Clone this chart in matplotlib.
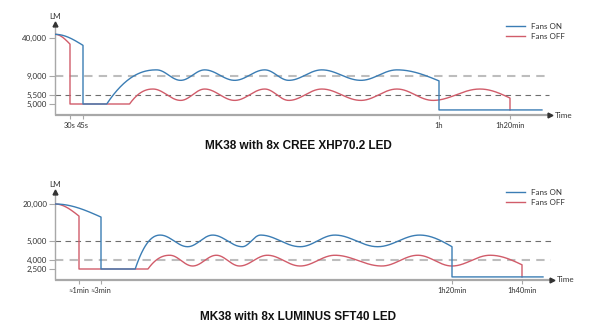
import numpy as np
import matplotlib
matplotlib.use("Agg")
import matplotlib.pyplot as plt

# ---------------- data ----------------
# Top chart: MK38 with 8x CREE XHP70.2 LED (time in minutes, output in lumens)
top_title = "MK38 with 8x CREE XHP70.2 LED"
top_yticks = [5000, 5500, 9000, 40000]
top_ytick_labels = ["5,000", "5,500", "9,000", "40,000"]
top_xticks = [0.5, 0.75, 60, 80]
top_xtick_labels = ["30s", "45s", "1h", "1h20min"]
top_dashed = [9000, 5500]

top_on_t = [0, 0.75, 0.75, 4.7, 13, 17, 21, 26, 31, 35, 40.5, 47, 53, 60, 60, 89]
top_on_lm = [43000, 34000, 5000, 5000, 14000, 8200, 14000, 8200, 14000, 8200, 14000, 8200, 14000, 8100, 2300, 2300]
top_on_kind = ["in", "step", "lin", "out", "cos", "cos", "cos", "cos", "cos", "cos", "cos", "cos", "in", "step", "lin"]

top_off_t = [0, 0.5, 0.5, 8.5, 12.4, 17, 21, 26, 31, 35, 40.5, 47, 53, 59, 71.5, 80, 80]
top_off_lm = [43000, 35000, 5000, 5000, 6600, 5200, 6600, 5200, 6600, 5200, 6600, 5200, 6600, 5200, 6600, 5330, 2300]
top_off_kind = ["in", "step", "lin", "out", "cos", "cos", "cos", "cos", "cos", "cos", "cos", "cos", "cos", "cos", "in", "step"]

# Bottom chart: MK38 with 8x LUMINUS SFT40 LED
bot_title = "MK38 with 8x LUMINUS SFT40 LED"
bot_yticks = [2500, 4000, 5000, 20000]
bot_ytick_labels = ["2,500", "4,000", "5,000", "20,000"]
bot_xticks = [1, 3, 80, 100]
bot_xtick_labels = ["\u22481min", "\u22483min", "1h20min", "1h40min"]
bot_dashed = [5000, 4000]

bot_on_t = [0, 3, 3, 10.5, 16, 22, 27.5, 34, 38, 46.7, 54.3, 63.7, 72.9, 80, 80, 106]
bot_on_lm = [20000, 14700, 2500, 2500, 7400, 4700, 7400, 4700, 7400, 4700, 7400, 4700, 7400, 4700, 700, 700]
bot_on_kind = ["in", "step", "lin", "out", "cos", "cos", "cos", "cos", "cos", "cos", "cos", "cos", "in", "step", "lin"]

bot_off_t = [0, 1, 1, 13.3, 18.1, 23.1, 28.3, 33.4, 39.5, 46.7, 54.3, 64.6, 72.5, 80, 90.9, 100, 100]
bot_off_lm = [20000, 15100, 2500, 2500, 4250, 3000, 4250, 3000, 4250, 3000, 4250, 3000, 4250, 3000, 4250, 3200, 700]
bot_off_kind = ["in", "step", "lin", "out", "cos", "cos", "cos", "cos", "cos", "cos", "cos", "cos", "cos", "cos", "in", "step"]

series_labels = ["Fans ON", "Fans OFF"]
series_colors = ["#3b7db4", "#d15c6a"]


# ---------------- helpers ----------------
def piecewise_scale(vals, pos):
    vals = np.asarray(vals, float)
    pos = np.asarray(pos, float)
    s_hi = (pos[-1] - pos[-2]) / (vals[-1] - vals[-2])
    vals_e = np.concatenate([vals, [vals[-1] + 1e6]])
    pos_e = np.concatenate([pos, [pos[-1] + 1e6 * s_hi]])

    def fwd(x):
        return np.interp(np.asarray(x, float), vals_e, pos_e)

    def inv(y):
        return np.interp(np.asarray(y, float), pos_e, vals_e)
    return fwd, inv


def smooth(ts, vs, kinds, fx, ix, fy, iy, n=60):
    """Smooth schematic line through key points, eased in scaled space."""
    px = fx(np.asarray(ts, float))
    py = fy(np.asarray(vs, float))
    xs, ys = [px[0]], [py[0]]
    for i, k in enumerate(kinds):
        x0, x1, y0, y1 = px[i], px[i + 1], py[i], py[i + 1]
        if k in ("step", "lin"):
            xs.append(x1); ys.append(y1)
            continue
        s = np.linspace(0, 1, n)[1:]
        if k == "cos":
            e = (1 - np.cos(np.pi * s)) / 2
        elif k == "in":
            e = 1 - np.cos(np.pi / 2 * s)
        else:  # "out": nearly straight rise that rounds off at the top
            e = 1 - (1 - s) ** 2.2
        xs.extend(x0 + (x1 - x0) * s)
        ys.extend(y0 + (y1 - y0) * e)
    return ix(np.array(xs)), iy(np.array(ys))


W, H = 600, 336
fig = plt.figure(figsize=(W / 100, H / 100), dpi=100)
fig.patch.set_facecolor("white")
FONT = ["Lato", "DejaVu Sans"]
AX_GRAY = "#a8a8a8"
TXT = "#333333"
FS = 5.8
FS_X = 5.4


def panel(x0, x1, ybase, ytop, title, title_y,
          xanch_t, xanch_p, yanch_v, yanch_p,
          yticks, ylabels, xticks, xlabels, dashed, dash_styles,
          on, off, leg_y):
    ax = fig.add_axes([x0 / W, (H - ybase) / H, (x1 - x0) / W, (ybase - ytop) / H])
    fx, ix = piecewise_scale(xanch_t, xanch_p)
    fy, iy = piecewise_scale(yanch_v, yanch_p)
    ax.set_xscale("function", functions=(fx, ix))
    ax.set_yscale("function", functions=(fy, iy))
    ax.set_xlim(0, ix(x1 - x0))
    ax.set_ylim(0, iy(ybase - ytop))
    ax.set_facecolor("none")
    for s in ax.spines.values():
        s.set_visible(False)

    ax.plot([0, 0], [0, 1], transform=ax.transAxes, color=AX_GRAY, lw=1.0,
            clip_on=False, solid_capstyle="butt")
    ax.plot([0, 1], [0, 0], transform=ax.transAxes, color=AX_GRAY, lw=1.6,
            clip_on=False, solid_capstyle="butt")
    ax.plot([0], [1], marker="^", ms=3.5, color="#333333", transform=ax.transAxes, clip_on=False)
    ax.plot([1], [0], marker=">", ms=3.5, color="#333333", transform=ax.transAxes, clip_on=False)
    ax.text(0, 1.0 + 4 / (ybase - ytop), "LM", transform=ax.transAxes, ha="center",
            va="bottom", fontsize=FS, family=FONT, color=TXT)
    ax.text(1.0 + 5 / (x1 - x0), 0, "Time", transform=ax.transAxes, ha="left",
            va="center", fontsize=FS, family=FONT, color=TXT)

    for lvl, (c, lw) in zip(dashed, dash_styles):
        ax.plot([0, ix(x1 - x0 - 1)], [lvl, lvl], color=c, lw=lw,
                linestyle=(0, (4, 3)) if lw > 1 else (0, (5, 4)), zorder=1)

    ax.set_yticks(yticks)
    ax.set_yticklabels(ylabels)
    ax.set_xticks(xticks)
    ax.set_xticklabels(xlabels)
    ax.minorticks_off()
    ax.tick_params(axis="y", length=4, width=0.8, color=AX_GRAY, pad=1.5,
                   labelsize=FS, labelcolor=TXT)
    ax.tick_params(axis="x", length=3, width=0.8, color=AX_GRAY, pad=2,
                   labelsize=FS_X, labelcolor=TXT)
    for lab in ax.get_xticklabels() + ax.get_yticklabels():
        lab.set_family(FONT)

    lines = []
    for (t, v, k), c, lab, z in zip([on, off], series_colors, series_labels, [4, 3]):
        xs, ys = smooth(t, v, k, fx, ix, fy, iy)
        ln, = ax.plot(xs, ys, color=c, lw=1.0, label=lab, zorder=z,
                      solid_joinstyle="round")
        lines.append(ln)

    fig.legend(handles=lines, labels=series_labels, loc="upper left",
               bbox_to_anchor=(506 / W, (H - leg_y) / H), frameon=False,
               handlelength=2.4, handletextpad=0.7,
               labelspacing=0.35, borderpad=0, borderaxespad=0,
               prop={"family": FONT, "size": FS}, labelcolor=TXT)

    fig.text(298 / W, (H - title_y) / H, title, ha="center", va="center",
             fontsize=8.5, fontweight="bold", family="Liberation Sans", color="#111111")
    return ax


panel(55, 550, 115, 24, top_title, 146,
      [0, 0.5, 0.75, 60, 80], [0, 15, 28, 384, 455],
      [0, 5000, 5500, 9000, 40000], [0, 11, 20, 39, 77],
      top_yticks, top_ytick_labels, top_xticks, top_xtick_labels,
      top_dashed, [("#bdbdbd", 1.5), ("#6e6e6e", 0.8)],
      (top_on_t, top_on_lm, top_on_kind), (top_off_t, top_off_lm, top_off_kind), 23)

panel(55, 552, 280, 192, bot_title, 317,
      [0, 1, 3, 80, 100], [0, 24, 46, 397, 467],
      [0, 2500, 4000, 5000, 20000], [0, 11, 20, 39, 76],
      bot_yticks, bot_ytick_labels, bot_xticks, bot_xtick_labels,
      bot_dashed, [("#6e6e6e", 0.8), ("#bdbdbd", 1.5)],
      (bot_on_t, bot_on_lm, bot_on_kind), (bot_off_t, bot_off_lm, bot_off_kind), 189)

fig.savefig("out.png", dpi=100, facecolor="white")
